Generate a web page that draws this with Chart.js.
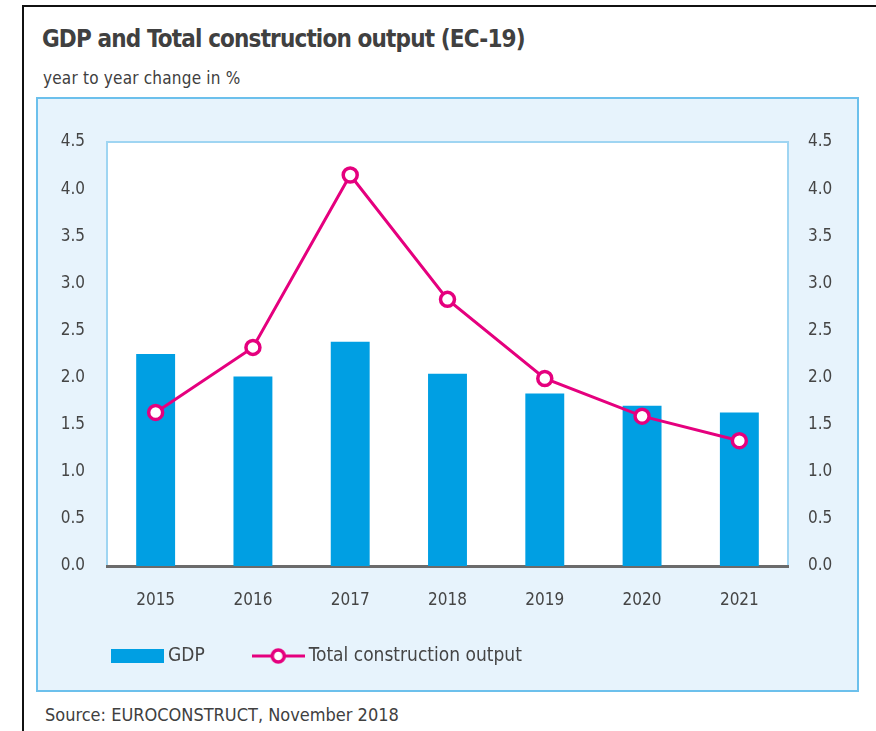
<!DOCTYPE html>
<html>
<head>
<meta charset="utf-8">
<script src="https://cdn.jsdelivr.net/npm/chart.js@4/dist/chart.umd.min.js"></script>
<style>
  html, body { margin: 0; padding: 0; background: #fff; }
  body { width: 876px; height: 731px; position: relative; overflow: hidden;
         font-family: "DejaVu Sans Condensed", "DejaVu Sans", sans-serif; color: #404040; }
  .frame { position: absolute; left: 22px; top: 5px; right: 0; bottom: 0;
           border-left: 2px solid #111; border-top: 2px solid #111; }
  .title { position: absolute; left: 42px; top: 25px; font-size: 24px; letter-spacing: -0.85px; font-weight: bold; white-space: nowrap; }
  .subtitle { position: absolute; left: 43px; top: 68px; font-size: 17px; letter-spacing: 0.2px; white-space: nowrap; }
  .panel { position: absolute; left: 36px; top: 97px; width: 819px; height: 591px;
           background: #e7f3fc; border: 2px solid #6cc0ec; }
  .source { position: absolute; left: 45px; top: 704px; font-size: 18px; white-space: nowrap; }
  canvas { display: block; }
</style>
</head>
<body>
<div class="frame"></div>
<div class="title">GDP and Total construction output (EC-19)</div>
<div class="subtitle">year to year change in %</div>
<div class="panel"><canvas id="chart" width="819" height="591"></canvas></div>
<div class="source">Source: EUROCONSTRUCT, November 2018</div>

<script>
// values
const years = ['2015', '2016', '2017', '2018', '2019', '2020', '2021'];
const gdp = [2.25, 2.01, 2.38, 2.04, 1.83, 1.70, 1.63];
const construction = [1.63, 2.32, 4.15, 2.83, 1.99, 1.59, 1.33];
const axisTicks = [0, 0.5, 1.0, 1.5, 2.0, 2.5, 3.0, 3.5, 4.0, 4.5];

const BLUE = '#009fe3';
const MAGENTA = '#e5007e';
const TEXT = '#454545';
const FONT = '"DejaVu Sans Condensed", "DejaVu Sans", sans-serif';

// legend icons: a wide bar and a line with a ring
function makeIcon(kind) {
    const c = document.createElement('canvas');
    c.width = 53; c.height = 18;
    const g = c.getContext('2d');
    if (kind === 'bar') {
        g.fillStyle = BLUE;
        g.fillRect(0, 2, 53, 14);
    } else {
        g.strokeStyle = MAGENTA; g.lineWidth = 3;
        g.beginPath(); g.moveTo(0, 9); g.lineTo(53, 9); g.stroke();
        g.beginPath(); g.arc(26.5, 9, 6, 0, Math.PI * 2);
        g.fillStyle = '#fff'; g.fill();
        g.lineWidth = 3.5; g.stroke();
    }
    return c;
}
const legendIcons = [makeIcon('bar'), makeIcon('line')];

// white plot box with light blue frame, legend moved under the plot
const plotBox = {
    id: 'plotBox',
    beforeDraw(chart) {
        const { ctx, chartArea: a } = chart;
        ctx.save();
        ctx.fillStyle = '#fff';
        ctx.fillRect(a.left, a.top, a.right - a.left, a.bottom - a.top);
        ctx.strokeStyle = '#9fd5f2';
        ctx.lineWidth = 2;
        ctx.beginPath();
        ctx.moveTo(a.left, a.bottom);
        ctx.lineTo(a.left, a.top);
        ctx.lineTo(a.right, a.top);
        ctx.lineTo(a.right, a.bottom);
        ctx.stroke();
        ctx.restore();
    },
    afterLayout(chart) {
        const lg = chart.legend;
        if (!lg) return;
        const w = lg.right - lg.left;
        lg.left = 26; lg.right = 26 + w;
        lg.top = 495;
    }
};

const tickFont = { family: FONT, size: 17 };
const fmt = v => Number(v).toFixed(1);

new Chart(document.getElementById('chart'), {
    data: {
        labels: years,
        datasets: [
            {
                type: 'bar', label: 'GDP', data: gdp, order: 2,
                backgroundColor: BLUE, barPercentage: 0.4, categoryPercentage: 1.0
            },
            {
                type: 'line', label: 'Total construction output', data: construction, order: 1,
                borderColor: MAGENTA, borderWidth: 3, tension: 0,
                pointRadius: 7, pointBackgroundColor: '#fff', pointBorderColor: MAGENTA, pointBorderWidth: 3.5
            }
        ]
    },
    options: {
        responsive: false, animation: false,
        layout: { padding: { top: 43, left: 0, right: 0, bottom: 0 } },
        plugins: {
            title: { display: false },
            tooltip: { enabled: false },
            legend: {
                position: 'bottom', align: 'start',
                labels: {
                    usePointStyle: true, pointStyleWidth: 42, boxHeight: 14, padding: 52.5,
                    color: TEXT, font: { family: FONT, size: 19 },
                    sort: (a, b) => a.datasetIndex - b.datasetIndex,
                    generateLabels(chart) {
                        const items = Chart.defaults.plugins.legend.labels.generateLabels(chart);
                        items.forEach(it => { it.pointStyle = legendIcons[it.datasetIndex]; });
                        return items;
                    }
                }
            }
        },
        scales: {
            x: {
                grid: { display: false, drawTicks: false },
                border: { display: true, color: '#6b6b6b', width: 3 },
                ticks: { color: TEXT, font: tickFont, padding: 24 },
                afterFit(s) { s.height = 42.5; }
            },
            y: {
                position: 'left', min: 0, max: 4.5,
                grid: { display: false, drawTicks: false }, border: { display: false },
                afterBuildTicks(s) { s.ticks = axisTicks.map(v => ({ value: v })); },
                ticks: { color: TEXT, font: tickFont, padding: 22, callback: fmt },
                afterFit(s) { s.width = 69; }
            },
            y2: {
                position: 'right', min: 0, max: 4.5,
                grid: { display: false, drawTicks: false }, border: { display: false },
                afterBuildTicks(s) { s.ticks = axisTicks.map(v => ({ value: v })); },
                ticks: { color: TEXT, font: tickFont, padding: 20, callback: fmt },
                afterFit(s) { s.width = 69; }
            }
        }
    },
    plugins: [plotBox]
});
</script>
</body>
</html>
